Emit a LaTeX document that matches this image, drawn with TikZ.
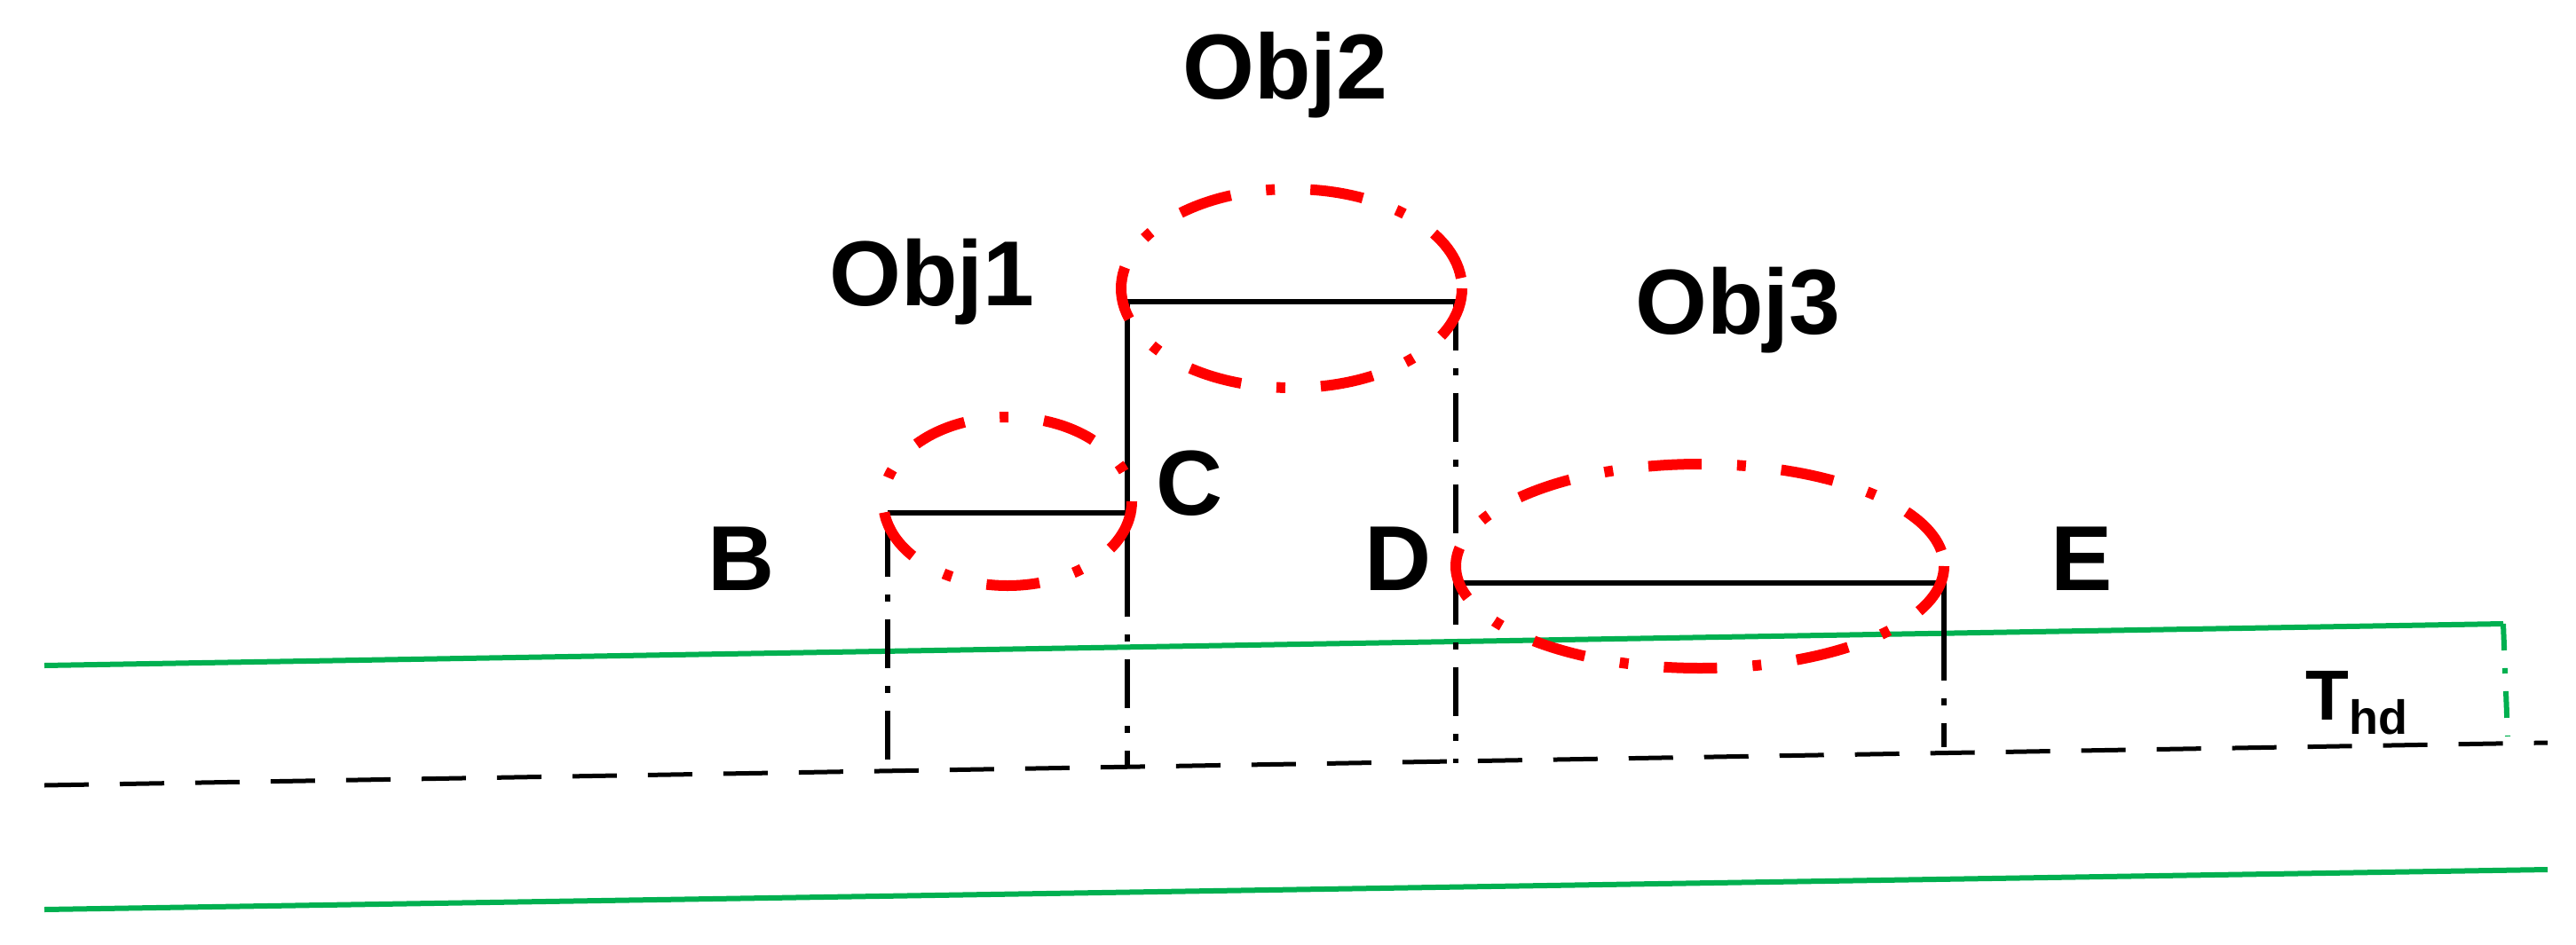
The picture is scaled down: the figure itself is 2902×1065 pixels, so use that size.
\documentclass[tikz,border=0pt]{standalone}
\usepackage{fontspec}
\setmainfont{Liberation Sans}
\definecolor{gline}{RGB}{0,176,80}
\begin{document}
\begin{tikzpicture}[x=1pt,y=-1pt,
  lbl/.style={font=\bfseries\fontsize{104}{104}\selectfont,inner sep=0pt},
  blk/.style={line width=6pt,black},
  dd/.style={blk,dash pattern=on 55pt off 20pt on 8pt off 20pt},
  grn/.style={line width=6pt,gline},
  obj/.style={red,line width=12pt,dash pattern=on 60pt off 40pt on 10pt off 40pt}]
\useasboundingbox (0,0) rectangle (2902,1065);
% ground lines
\coordinate (g1) at (50,750); \coordinate (g2) at (2820,703);
\coordinate (g3) at (2825,830);
\draw[grn] (g1) -- (g2);
\draw[grn,dash pattern=on 30pt off 20pt on 6pt off 20pt] (g2) -- (g3);
\coordinate (k1) at (50,885); \coordinate (k2) at (2870,837);
\draw[blk,line width=5pt,dash pattern=on 50pt off 35pt] (k1) -- (k2);
\coordinate (h1) at (50,1025); \coordinate (h2) at (2870,980);
\draw[grn] (h1) -- (h2);
% objects
\coordinate (b0) at (1000,578); \coordinate (b1) at (1000,872);
\coordinate (c0) at (1270,340); \coordinate (c1) at (1270,640); \coordinate (c2) at (1270,865);
\coordinate (d0) at (1640,340); \coordinate (d1) at (1640,860);
\coordinate (e0) at (1640,657); \coordinate (e1) at (2190,657); \coordinate (e2) at (2190,712); \coordinate (e3) at (2190,842);
\draw[blk] (b0) -- (1270,578);
\draw[dd] (1000,595) -- (b1);
\draw[blk] (c0) -- (c1); \draw[dd] (c1) -- (c2);
\draw[blk] (c0) -- (d0);
\draw[dd] (d0) -- (d1);
\draw[blk] (e0) -- (e1) -- (e2); \draw[dd] (e2) -- (e3);
\draw[obj] (1135,565) ellipse [x radius=140,y radius=95];
\draw[obj] (1455,325) ellipse [x radius=192,y radius=112];
\draw[obj] (1915,638) ellipse [x radius=275,y radius=115];
% labels
\node[lbl] (o1) at (1050,318) {Obj1};
\node[lbl] (o2) at (1448,85) {Obj2};
\node[lbl] (o3) at (1958,350) {Obj3};
\node[lbl] (B) at (835,630) {B};
\node[lbl] (C) at (1340,545) {C};
\node[lbl] (D) at (1575,630) {D};
\node[lbl] (E) at (2345,630) {E};
\node[inner sep=0pt,font=\bfseries\fontsize{80}{80}\selectfont] (T) at (2655,792) {T\raisebox{-16pt}{\fontsize{54}{54}\selectfont hd}};
\end{tikzpicture}
\end{document}
